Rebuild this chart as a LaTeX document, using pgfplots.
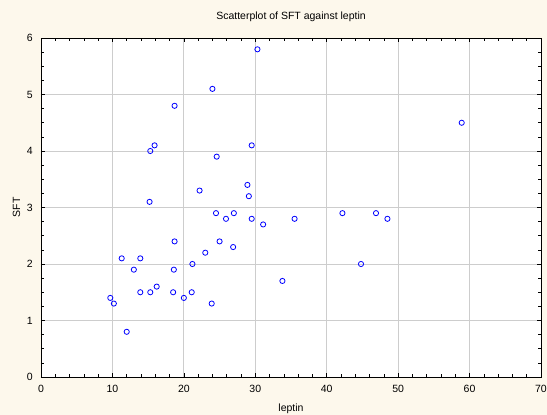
\documentclass[border=0pt]{standalone}
\usepackage{fontspec}
\setmainfont{Liberation Sans}
\usepackage{pgfplots}
\pgfplotsset{compat=1.18}
\definecolor{cream}{RGB}{253,248,236}
\definecolor{gridgray}{RGB}{205,205,205}
\begin{document}
\begin{tikzpicture}
\fill[cream] (-41pt,-38pt) rectangle (506pt,377pt);
\begin{axis}[
  at={(0pt,0pt)}, anchor=south west,
  scale only axis, width=500pt, height=339pt,
  xmin=0, xmax=70, ymin=0, ymax=6,
  xtick={0,10,...,70}, ytick={0,1,...,6},
  minor x tick num=4, minor y tick num=3,
  tick align=inside, xtick pos=both, ytick pos=both,
  major tick length=4pt, minor tick length=2.5pt,
  every tick/.style={black, line width=0.6pt},
  grid=major,
  major grid style={gridgray, line width=0.8pt},
  axis line style={black, line width=0.9pt},
  axis background/.style={fill=white},
  /pgf/number format/assume math mode=true,
  tick label style={font=\fontsize{10.5}{12}\selectfont},
  xticklabel style={anchor=center, yshift=-12pt},
  yticklabel style={anchor=east, xshift=-8pt, inner xsep=0pt},
  title={Scatterplot of SFT against leptin},
  title style={at={(axis description cs:0.5,1.0457)}, anchor=center, font=\fontsize{10.5}{12}\selectfont},
  xlabel={leptin},
  xlabel style={at={(axis description cs:0.5,-0.0944)}, anchor=center, font=\fontsize{10.5}{12}\selectfont},
  ylabel={SFT},
  ylabel style={at={(axis description cs:-0.049,0.5)}, anchor=center, font=\fontsize{10.5}{12}\selectfont},
]
\addplot[only marks, mark=o, mark size=2.6pt, draw=blue, mark options={line width=0.8pt}] coordinates {
(9.7,1.4)(10.2,1.3)(12.0,0.8)(11.3,2.1)(13.0,1.9)(13.9,2.1)(13.9,1.5)(15.3,1.5)
(16.2,1.6)(15.2,3.1)(18.7,2.4)(18.6,1.9)(18.5,1.5)(20.0,1.4)(21.1,1.5)(21.2,2.0)
(23.0,2.2)(23.9,1.3)(24.5,2.9)(25.0,2.4)(25.9,2.8)(27.0,2.9)(26.9,2.3)(29.5,2.8)
(31.1,2.7)(30.3,5.8)(24.0,5.1)(18.7,4.8)(15.9,4.1)(15.3,4.0)(29.5,4.1)(24.6,3.9)
(22.2,3.3)(28.9,3.4)(29.1,3.2)(35.5,2.8)(33.8,1.7)(42.2,2.9)(46.9,2.9)(48.5,2.8)
(44.8,2.0)(58.9,4.5)
};
\end{axis}
\pgfresetboundingbox
\path[use as bounding box] (-41pt,-38pt) rectangle (506pt,377pt);
\end{tikzpicture}
\end{document}
